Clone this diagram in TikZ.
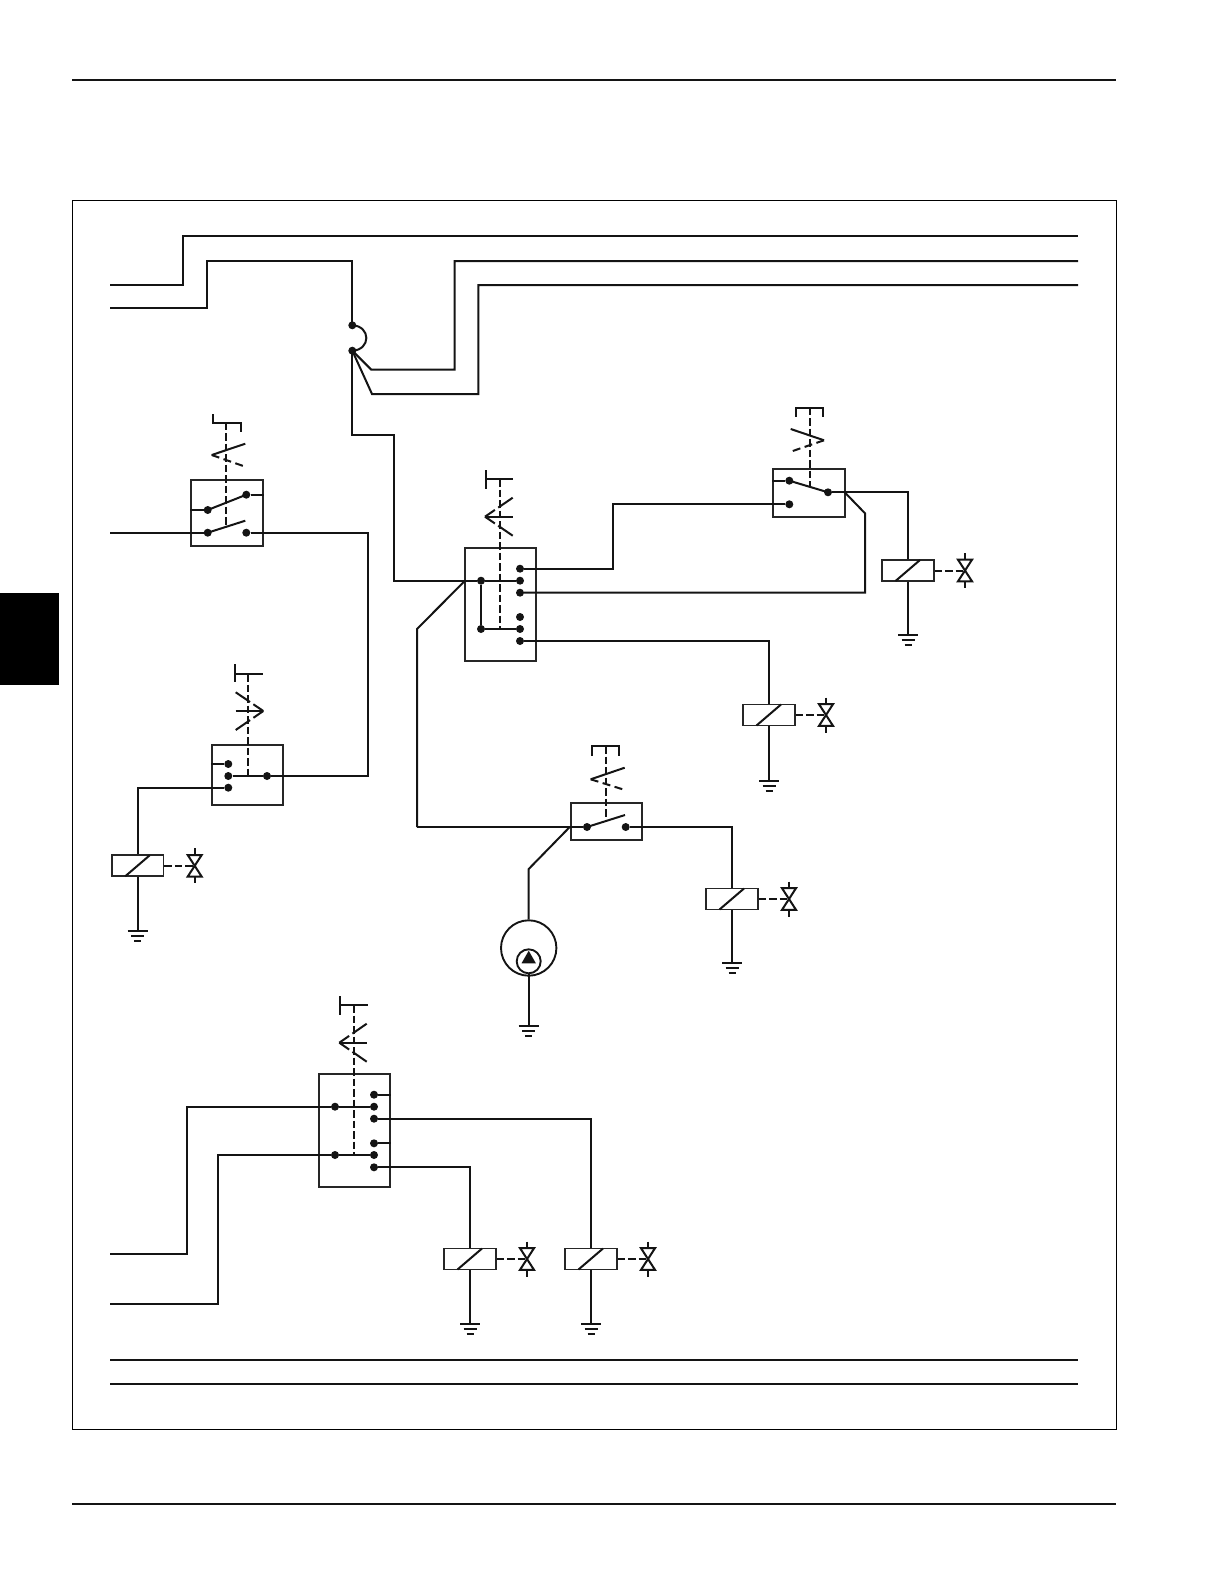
\documentclass[tikz,border=0pt]{standalone}
\usepackage{tikz}
\usepackage{xcolor}
\tikzset{
    wire/.style={line width=2pt, color=black!92, line join=miter},
    stem/.style={line width=2pt, color=black!92, dash pattern=on 7.5pt off 3pt},
    armdash/.style={line width=2pt, color=black!92, dash pattern=on 8pt off 4.5pt},
    chevdash/.style={line width=2pt, color=black!92, dash pattern=on 12pt off 4pt on 18pt off 4pt},
    rule/.style={line width=2pt, color=black!92},
    swbox/.style={draw=black!85, line width=1.8pt, rectangle, inner sep=0pt},
    coilbox/.style={draw=black!85, line width=1.8pt, rectangle, inner sep=0pt, minimum width=51.5pt, minimum height=21pt},
    pin/.style={circle, fill=black!92, inner sep=0pt, minimum size=8pt},
}
\newcommand{\relaycoil}[3]{
    \node[coilbox] (#1) at (#2,#3) {};
    \draw[wire] (#2-12.5,#3+10.5) -- (#2+12,#3-10.5);
    \coordinate (#1v) at (#2+57,#3+0.3);
    \draw[stem] (#1.east |- #1v) -- (#1v);
    \draw[wire] (#2+50,#3-10.8) -- (#2+64,#3-10.8) -- (#2+50,#3+10.8) -- (#2+64,#3+10.8) -- cycle;
    \draw[wire] (#2+57,#3-17.5) -- (#2+57,#3-10.8);
    \draw[wire] (#2+57,#3+10.8) -- (#2+57,#3+17.5);
}
\newcommand{\earthbars}[3]{
    \coordinate (#1) at (#2,#3);
    \draw[wire] (#2-10,#3) -- (#2+10,#3);
    \draw[wire] (#2-6.5,#3+5) -- (#2+6.5,#3+5);
    \draw[wire] (#2-3.5,#3+10) -- (#2+3.5,#3+10);
}
\begin{document}
\begin{tikzpicture}[x=1pt,y=-1pt]
    \useasboundingbox (0,0) rectangle (1224,1584);
    \fill[black] (0,593) rectangle (59,685);
    \coordinate (topl) at (72,80);
    \coordinate (topr) at (1116,80);
    \coordinate (botl) at (72,1504);
    \coordinate (botr) at (1116,1504);
    \draw[rule] (topl) -- (topr);
    \draw[rule] (botl) -- (botr);
    \draw[black, line width=1pt] (72,200) rectangle (1116,1429);

    \coordinate (feeda) at (110,285);
    \coordinate (feedb) at (110,308);
    \coordinate (feedc) at (110,532.7);
    \coordinate (feedd) at (110,1254);
    \coordinate (feede) at (110,1303.8);
    \coordinate (busa) at (1078,236);
    \coordinate (busb) at (1078,261);
    \coordinate (busc) at (1078,285);
    \coordinate (gnda) at (110,1359.6);
    \coordinate (gndb) at (1078,1359.6);
    \coordinate (gndc) at (110,1383.6);
    \coordinate (gndd) at (1078,1383.6);
    \draw[wire] (gnda) -- (gndb);
    \draw[wire] (gndc) -- (gndd);

    \node[pin] (fusea) at (352.3,325.3) {};
    \node[pin] (fuseb) at (352.3,350.7) {};
    \draw[wire] (feeda) -- (183,285) -- (183,236) -- (busa);
    \draw[wire] (feedb) -- (207,308) -- (207,261) -- (352.3,261) -- (fusea.center);
    \draw[wire] (fusea.center) .. controls (371,326) and (371,350) .. (fuseb.center);
    \draw[wire] (fuseb.center) -- (371.3,369.7) -- (454.7,369.7) -- (454.7,261) -- (busb);
    \draw[wire] (fuseb.center) -- (372,394) -- (478.3,394) -- (478.3,285) -- (busc);

    \node[swbox, minimum width=71.7pt, minimum height=65.7pt] (boxa) at (226.9,512.9) {};
    \node[pin] (aa) at (207.7,510) {};
    \node[pin] (ab) at (246.3,494.7) {};
    \node[pin] (ac) at (207.7,532.7) {};
    \node[pin] (ad) at (246.3,532.7) {};
    \draw[wire] (boxa.west |- aa) -- (aa);
    \draw[wire] (ab) -- (boxa.east |- ab);
    \draw[wire] (aa.center) -- (ab.center);
    \draw[wire] (ac.center) -- (245.3,520.7);
    \draw[wire] (feedc) -- (ac);
    \draw[stem] (226,422.7) -- (226,526.7);
    \draw[wire] (212.7,414) -- (212.7,422.7) -- (240.7,422.7) -- (240.7,431.7);
    \draw[wire] (245.3,443.7) -- (211.7,455);
    \draw[armdash] (211.7,455) -- (243.3,466);

    \node[swbox, minimum width=71.3pt, minimum height=60pt] (boxd) at (247.3,775) {};
    \node[pin] (da) at (228.3,764) {};
    \node[pin] (db) at (228.3,776) {};
    \node[pin] (dc) at (228.3,787.7) {};
    \node[pin] (dd) at (267,776) {};
    \draw[wire] (boxd.west |- da) -- (da);
    \draw[wire] (db) -- (dd);
    \draw[wire] (ad) -| (367.6,776) -- (dd);
    \draw[stem] (247.7,674) -- (247.7,776);
    \draw[wire] (235,664.3) -- (235,682.3);
    \draw[wire] (235,674) -- (262.7,674);
    \draw[chevdash] (263.3,711) -- (235.7,692.3);
    \draw[chevdash] (263.3,711) -- (235.7,730);
    \draw[wire] (235.7,711) -- (263.3,711);

    \relaycoil{coila}{137.7}{865.8}
    \earthbars{eartha}{137.7}{931}
    \draw[wire] (dc) -| (coila.north);
    \draw[wire] (coila.south) -- (eartha);

    \node[swbox, minimum width=71pt, minimum height=113.3pt] (boxb) at (500.5,604.4) {};
    \node[pin] (ba) at (481,580.7) {};
    \node[pin] (bb) at (481,629) {};
    \node[pin] (bc) at (520,568.7) {};
    \node[pin] (bd) at (520,580.7) {};
    \node[pin] (be) at (520,592.7) {};
    \node[pin] (bf) at (520,617) {};
    \node[pin] (bg) at (520,629) {};
    \node[pin] (bh) at (520,641) {};
    \draw[wire] (ba) -- (bd);
    \draw[wire] (bb) -- (bg);
    \draw[wire] (ba) -- (bb);
    \draw[stem] (500,479) -- (500,629);
    \draw[wire] (485.7,470) -- (485.7,489);
    \draw[wire] (485.7,479) -- (513.3,479);
    \draw[chevdash] (485,516.7) -- (512.7,497.7);
    \draw[chevdash] (485,516.7) -- (512.7,535.7);
    \draw[wire] (485,516.7) -- (512.7,516.7);
    \coordinate (boxbin) at (465,580.7);
    \draw[wire] (fuseb.center) -- (352.3,435) -- (394.4,435) -- (394.4,580.7) -- (ba);
    \draw[wire] (boxbin) -- (417,629) -- (417,827);

    \node[swbox, minimum width=71.4pt, minimum height=47.4pt] (boxc) at (809,493) {};
    \node[pin] (ca) at (789.3,480.7) {};
    \node[pin] (cb) at (789.3,504.3) {};
    \node[pin] (cc) at (828,492.3) {};
    \draw[wire] (boxc.west |- ca) -- (ca);
    \draw[wire] (ca.center) -- (cc.center);
    \draw[wire] (bc) -- (613,568.7) -- (613,504.3) -- (cb);
    \draw[stem] (810,407.7) -- (810,485.7);
    \draw[wire] (795.7,416.7) -- (795.7,407.7) -- (823,407.7) -- (823,416.7);
    \draw[wire] (790.7,429) -- (824,440.3);
    \draw[armdash] (824,440.3) -- (792.7,451);
    \draw[wire] (be) -- (865,592.7) -- (865,513.3) -- (844.7,492.3);

    \relaycoil{coilb}{908}{570.5}
    \earthbars{earthb}{908}{635}
    \draw[wire] (cc) -| (coilb.north);
    \draw[wire] (coilb.south) -- (earthb);

    \relaycoil{coilc}{769}{715}
    \earthbars{earthc}{769}{780.7}
    \draw[wire] (bh) -| (coilc.north);
    \draw[wire] (coilc.south) -- (earthc);

    \node[swbox, minimum width=71.3pt, minimum height=37pt] (boxe) at (606.3,821.8) {};
    \node[pin] (ea) at (587,827) {};
    \node[pin] (eb) at (625.7,827) {};
    \draw[wire] (417,827) -- (ea);
    \draw[wire] (ea.center) -- (625,815);
    \draw[stem] (606,746) -- (606,819.3);
    \draw[wire] (591.7,755.7) -- (591.7,746) -- (619.3,746) -- (619.3,755.7);
    \draw[wire] (624.7,767.7) -- (590.7,779.3);
    \draw[armdash] (590.7,779.3) -- (622.7,789.3);

    \relaycoil{coild}{732}{899}
    \earthbars{earthd}{732}{963}
    \draw[wire] (eb) -| (coild.north);
    \draw[wire] (coild.south) -- (earthd);

    \node[circle, draw=black!92, line width=1.9pt, minimum size=55.4pt, inner sep=0pt] (pump) at (528.7,948) {};
    \node[circle, draw=black!92, line width=1.9pt, minimum size=24pt, inner sep=0pt] (pumpin) at (528.7,961.3) {};
    \fill[black!92] (528.7,950.7) -- (521.5,963.3) -- (535.9,963.3) -- cycle;
    \earthbars{earthe}{528.7}{1026}
    \draw[wire] (boxe.west |- ea) -- (528.7,869) -- (pump.north);
    \draw[wire] (pumpin.south) -- (earthe);

    \node[swbox, minimum width=71pt, minimum height=112.7pt] (boxf) at (354.5,1130.4) {};
    \node[pin] (fa) at (335,1106.7) {};
    \node[pin] (fb) at (335,1155) {};
    \node[pin] (fc) at (374,1094.7) {};
    \node[pin] (fd) at (374,1106.7) {};
    \node[pin] (fe) at (374,1118.7) {};
    \node[pin] (ff) at (374,1143.3) {};
    \node[pin] (fg) at (374,1155) {};
    \node[pin] (fh) at (374,1167.3) {};
    \draw[wire] (fc) -- (boxf.east |- fc);
    \draw[wire] (ff) -- (boxf.east |- ff);
    \draw[wire] (fa) -- (fd);
    \draw[wire] (fb) -- (fg);
    \draw[stem] (354,1005) -- (354,1155);
    \draw[wire] (340,996) -- (340,1014.7);
    \draw[wire] (340,1005) -- (367.7,1005);
    \draw[chevdash] (339.3,1042.7) -- (366.7,1023.7);
    \draw[chevdash] (339.3,1042.7) -- (366.7,1061.7);
    \draw[wire] (339.3,1042.7) -- (366.7,1042.7);
    \draw[wire] (feedd) -- (187,1254) -- (187,1106.7) -- (fa);
    \draw[wire] (feede) -- (218,1303.8) -- (218,1155) -- (fb);

    \relaycoil{coile}{470}{1259}
    \earthbars{earthf}{470}{1324}
    \draw[wire] (fh) -| (coile.north);
    \draw[wire] (coile.south) -- (earthf);

    \relaycoil{coilf}{591}{1259}
    \earthbars{earthg}{591}{1324}
    \draw[wire] (fe) -| (coilf.north);
    \draw[wire] (coilf.south) -- (earthg);
\end{tikzpicture}
\end{document}
